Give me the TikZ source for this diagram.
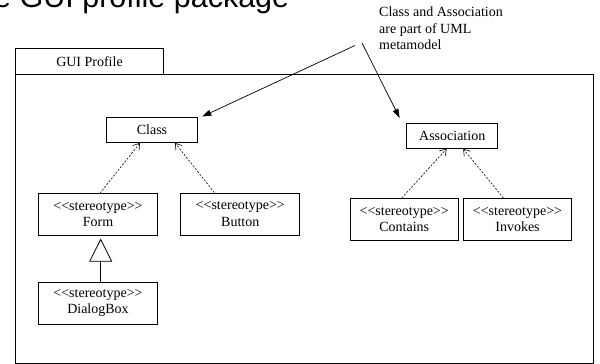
\documentclass[tikz,border=0pt]{standalone}
\usepackage{fontspec}
\setmainfont{Liberation Serif}
\newfontfamily\titlefont{Liberation Sans}
\usetikzlibrary{arrows.meta, calc}

% two-line stereotype label, kerns keep << and >> from turning into guillemets
\newcommand{\stereo}[1]{<\kern0pt<stereotype>\kern0pt>\\#1}

\begin{document}
\begin{tikzpicture}[x=1pt, y=-1pt,
  font=\fontsize{14}{16.5}\selectfont,
  metabox/.style={draw, line width=0.8pt, minimum width=91pt, minimum height=25pt, inner sep=0pt},
  stereobox/.style={draw, line width=0.8pt, align=center, minimum height=42pt, inner sep=0pt},
  depends/.style={line width=0.6pt, dash pattern=on 2pt off 1.6pt, -{Straight Barb[length=6pt, width=8pt]}},
  pointer/.style={line width=0.7pt, -{Triangle[length=9pt, width=6pt]}}]
  \useasboundingbox (0,0) rectangle (600,364);
  % --- Heading, cut at the top edge ---
  \node[anchor=base west, inner sep=0pt, font=\titlefont\fontsize{30.5}{31}\selectfont] (title) at (-6,7) {e GUI profile package};
  % --- Package frame and its tab ---
  \draw[line width=0.8pt] (15.7,74) rectangle (593.5,363.3);
  \node[draw, line width=0.8pt, minimum width=147.6pt, minimum height=25.7pt, inner sep=0pt] (tab) at (89.5,61.2) {GUI Profile};
  % --- Metaclasses ---
  \node[metabox] (cls) at (152,130) {Class};
  \node[metabox] (assoc) at (452.2,135.8) {Association};
  % --- Stereotypes ---
  \node[stereobox, minimum width=119pt] (frm) at (98,214.6) {\stereo{Form}};
  \node[stereobox, minimum width=119pt] (btn) at (240.3,213.9) {\stereo{Button}};
  \node[stereobox, minimum width=119pt] (dlg) at (98,303.2) {\stereo{DialogBox}};
  \node[stereobox, minimum width=108pt] (cnt) at (404.2,219.5) {\stereo{Contains}};
  \node[stereobox, minimum width=108pt] (inv) at (517.5,219.5) {\stereo{Invokes}};
  % --- Extension dependencies ---
  \draw[depends] ($(frm.north)+(2,0)$) -- ($(cls.south)+(-12,0)$);
  \draw[depends] ($(btn.north)+(-26,0)$) -- ($(cls.south)+(23,0)$);
  \draw[depends] ($(cnt.north)+(-2.5,0)$) -- ($(assoc.south)+(-5.5,0)$);
  \draw[depends] ($(inv.north)+(-14,0)$) -- ($(assoc.south)+(11,0)$);
  % --- Generalization ---
  \draw[line width=0.8pt, shorten >=2.6pt, -{Triangle[open, length=23pt, width=23pt]}] ($(dlg.north)+(2.7,0)$) -- ($(frm.south)+(2.7,0)$);
  % --- Note ---
  \node[anchor=north west, align=left, inner sep=0pt] (note) at (379,6.8) {Class and Association\\are part of UML\\metamodel};
  \coordinate (n1) at (355,45.5);
  \coordinate (n2) at (362,43);
  \draw[pointer] (n1) -- ($(cls.north east)+(4.4,-0.6)$);
  \draw[pointer] (n2) -- ($(assoc.north west)+(-6.7,-5)$);
\end{tikzpicture}
\end{document}
